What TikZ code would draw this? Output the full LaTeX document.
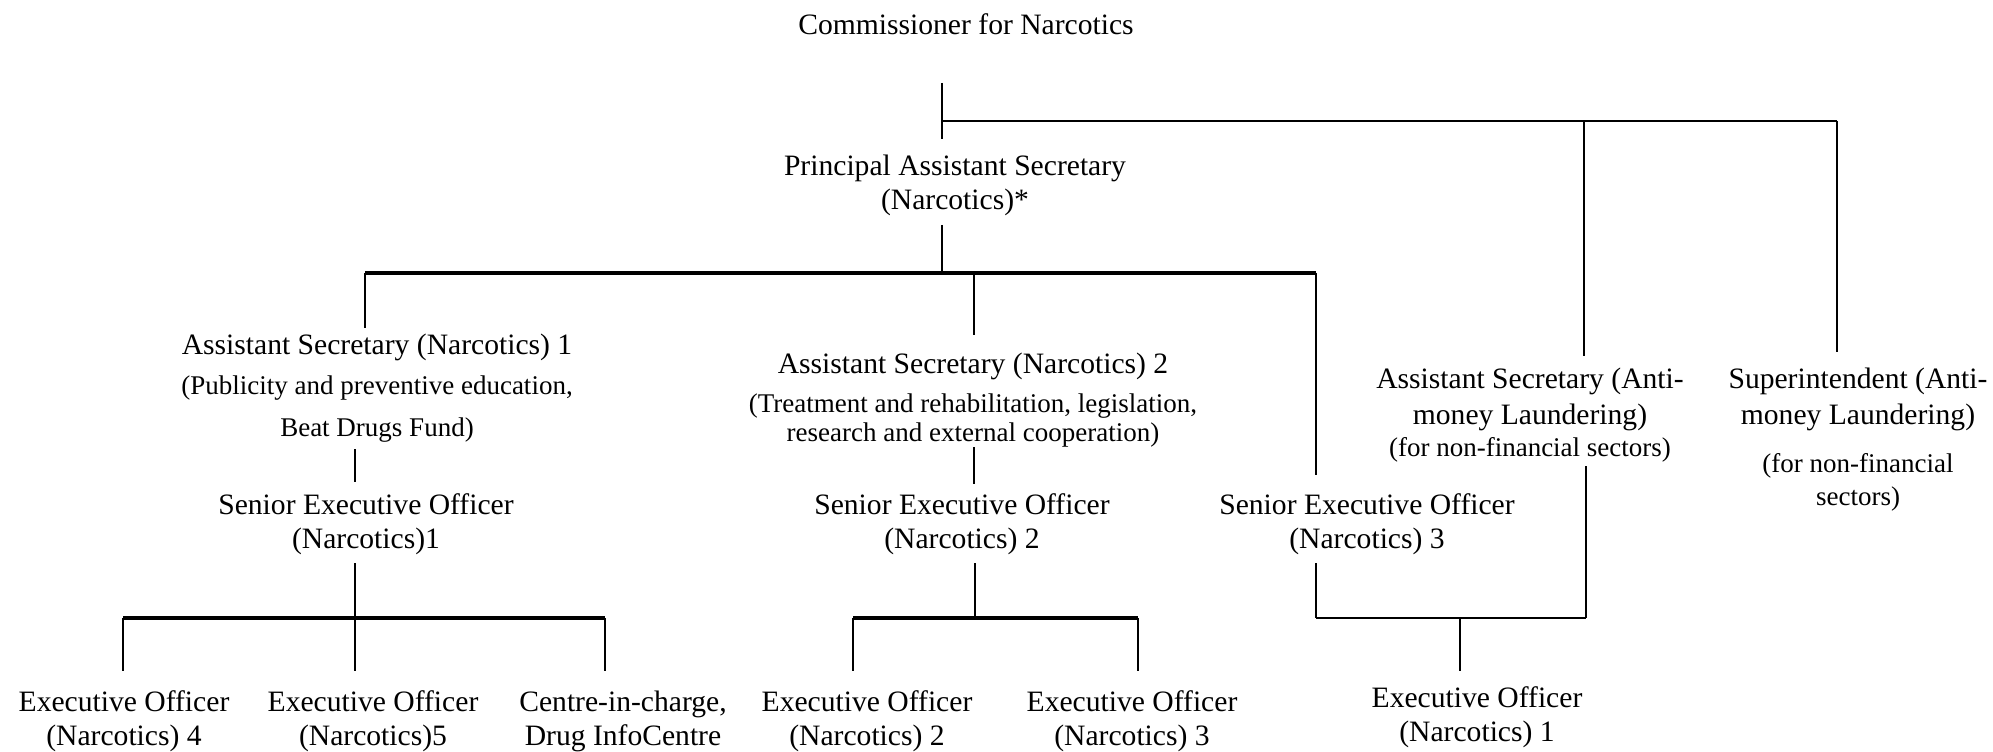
\documentclass[tikz,border=0pt]{standalone}
\usepackage{fontspec}
\setmainfont{Liberation Serif}
\usetikzlibrary{positioning,calc}
\newcommand{\postsize}{\fontsize{11.84}{13.6}\selectfont}
\newcommand{\dutysize}{\fontsize{10.8}{13.6}\selectfont}

\begin{document}
\begin{tikzpicture}[
  x=0.4pt, y=-0.4pt,
  post/.style={inner sep=0pt, align=center, anchor=base, font=\postsize},
  link/.style={line width=0.65pt, draw=black},
  bar/.style={line width=1.3pt, draw=black},
  midbar/.style={line width=0.9pt, draw=black}
]
  \useasboundingbox (0,0) rectangle (1993,752);

  % --- Top: Commissioner and Principal Assistant Secretary ---
  % (base of a node = baseline of its last line)
  \node[post] (comm) at (966,35) {Commissioner for Narcotics};
  \node[post] (pas)  at (955,210) {Principal Assistant Secretary\\(Narcotics)*};

  % --- Assistant Secretaries and Superintendent ---
  \node[post] (as1) at (377,436)
        {Assistant Secretary (Narcotics) 1\\[2.8pt]
         {\dutysize (Publicity and preventive education,}\\[2.8pt]
         {\dutysize Beat Drugs Fund)}};
  \node[post] (as2) at (973,441)
        {Assistant Secretary (Narcotics) 2\\[2pt]
         {\dutysize (Treatment and rehabilitation, legislation,}\\[-2pt]
         {\dutysize research and external cooperation)}};
  \node[post] (asaml) at (1530,456)
        {Assistant Secretary (Anti-\\[0.8pt]money Laundering)\\[-0.8pt]
         {\dutysize (for non-financial sectors)}};
  \node[post] (supt) at (1858,505)
        {Superintendent (Anti-\\[0.8pt]money Laundering)\\[5.6pt]
         {\dutysize (for non-financial}\\[-0.4pt]
         {\dutysize sectors)}};

  % --- Senior Executive Officers ---
  \node[post] (seo1) at (366,548)  {Senior Executive Officer\\(Narcotics)1};
  \node[post] (seo2) at (962,548)  {Senior Executive Officer\\(Narcotics) 2};
  \node[post] (seo3) at (1367,548) {Senior Executive Officer\\(Narcotics) 3};

  % --- Executive Officers ---
  \node[post] (eo4) at (124,745)  {Executive Officer\\(Narcotics) 4};
  \node[post] (eo5) at (373,745)  {Executive Officer\\(Narcotics)5};
  \node[post] (cic) at (623,745)  {Centre-in-charge,\\Drug InfoCentre};
  \node[post] (eo2) at (867,745)  {Executive Officer\\(Narcotics) 2};
  \node[post] (eo3) at (1132,745) {Executive Officer\\(Narcotics) 3};
  \node[post] (eo1) at (1477,741) {Executive Officer\\(Narcotics) 1};

  % --- junction points of the lines ---
  \coordinate (cm-a) at (942,83);   \coordinate (cm-j) at (942,121);
  \coordinate (cm-b) at (942,139);
  \coordinate (aml-j) at (1584,121); \coordinate (aml-a) at (1584,356);
  \coordinate (sup-j) at (1837,121); \coordinate (sup-a) at (1837,352);
  \coordinate (pas-a) at (942,225);  \coordinate (pas-j) at (942,273);
  \coordinate (as1-j) at (365,273);  \coordinate (as1-a) at (365,328);
  \coordinate (as2-j) at (974,273);  \coordinate (as2-a) at (974,335);
  \coordinate (seo3-j) at (1316,273); \coordinate (seo3-a) at (1316,475);
  \coordinate (as1-b) at (355,449);  \coordinate (seo1-a) at (355,482);
  \coordinate (seo1-b) at (355,563); \coordinate (seo1-j) at (355,618);
  \coordinate (eo4-j) at (123,618);  \coordinate (eo4-a) at (123,671);
  \coordinate (eo5-a) at (355,671);
  \coordinate (cic-j) at (605,618);  \coordinate (cic-a) at (605,671);
  \coordinate (as2-b) at (974,447);  \coordinate (seo2-a) at (974,484);
  \coordinate (seo2-b) at (975,563); \coordinate (seo2-j) at (975,618);
  \coordinate (eo2-j) at (853,618);  \coordinate (eo2-a) at (853,671);
  \coordinate (eo3-j) at (1138,618); \coordinate (eo3-a) at (1138,671);
  \coordinate (seo3-b) at (1316,563); \coordinate (seo3-c) at (1316,618);
  \coordinate (aml-b) at (1586,466); \coordinate (aml-c) at (1586,618);
  \coordinate (eo1-j) at (1460,618); \coordinate (eo1-a) at (1460,671);

  % --- Commissioner to PAS and the anti-money laundering posts ---
  \draw[link] (cm-a) -- (cm-b);
  \draw[midbar] (cm-j) -- (sup-j);
  \draw[link] (aml-j) -- (aml-a);
  \draw[link] (sup-j) -- (sup-a);

  % --- PAS to its three branches ---
  \draw[link] (pas-a) -- (pas-j);
  \draw[bar] (as1-j) -- (seo3-j);
  \draw[link] (as1-j) -- (as1-a);
  \draw[link] (as2-j) -- (as2-a);
  \draw[link] (seo3-j) -- (seo3-a);

  % --- Branch 1 ---
  \draw[link] (as1-b) -- (seo1-a);
  \draw[link] (seo1-b) -- (seo1-j);
  \draw[bar] (eo4-j) -- (cic-j);
  \foreach \top/\bot in {eo4-j/eo4-a, seo1-j/eo5-a, cic-j/cic-a}
    \draw[link] (\top) -- (\bot);

  % --- Branch 2 ---
  \draw[link] (as2-b) -- (seo2-a);
  \draw[link] (seo2-b) -- (seo2-j);
  \draw[bar] (eo2-j) -- (eo3-j);
  \draw[link] (eo2-j) -- (eo2-a);
  \draw[link] (eo3-j) -- (eo3-a);

  % --- SEO 3 and AS (AML) share EO 1 ---
  \draw[link] (seo3-b) -- (seo3-c);
  \draw[midbar] (seo3-c) -- (aml-c);
  \draw[link] (aml-b) -- (aml-c);
  \draw[link] (eo1-j) -- (eo1-a);
\end{tikzpicture}
\end{document}
